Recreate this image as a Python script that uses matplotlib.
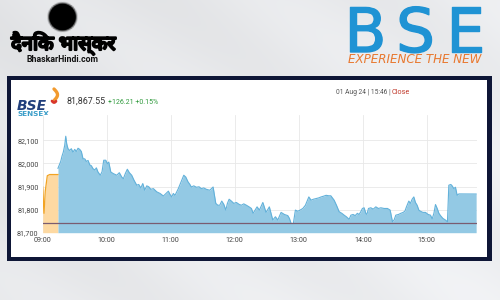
import numpy as np
import pandas as pd
import matplotlib
matplotlib.use("Agg")
import matplotlib.pyplot as plt
from matplotlib.patches import Rectangle, Polygon, Circle
import matplotlib.patheffects as pe
from matplotlib.ticker import StrMethodFormatter

# ---------------- data ----------------
session_date = "2024-08-01"
preopen_min = [0.0, 1.2, 2.4, 4.3, 6.6, 13.7, 14.3]
preopen_val = [81898, 81784, 81880, 81947, 81952, 81952, 81952]

trade_min = [14.3, 16.9, 18.1, 19.3, 20.6, 21.6, 22.5, 23.7, 25.3, 26.8, 28.4, 30.0,
             31.5, 33.1, 34.7, 36.2, 37.8, 39.4, 40.9, 42.5, 44.1, 45.6, 47.2, 48.8,
             50.3, 51.8, 54.0, 55.6, 57.2, 59.1, 60.6, 61.9, 63.8, 66.2, 69.4, 71.8,
             74.1, 75.6, 77.4, 79.3, 81.2, 83.4, 85.6, 88.1, 90.0, 91.9, 93.8, 95.6,
             97.5, 99.4, 101.3, 103.7, 106.9, 110.0, 113.1, 115.6, 117.8, 119.3, 120.9,
             122.4, 124.0, 125.6, 127.1, 130.3, 132.2, 134.1, 136.2, 137.8, 139.3, 141.6,
             144.0, 146.5, 148.7, 150.9, 153.4, 156.6, 159.7, 162.2, 164.1, 165.9, 167.8,
             169.7, 171.6, 173.1, 174.7, 176.8, 179.1, 181.5, 184.0, 186.2, 188.4, 190.9,
             193.4, 195.6, 197.2, 199.0, 200.9, 203.1, 206.3, 209.3, 212.4, 215.6, 218.1,
             220.3, 223.4, 226.5, 229.7, 231.2, 232.8, 234.9, 236.8, 239.1, 241.2, 243.8,
             246.2, 247.5, 249.4, 251.5, 253.7, 256.2, 258.8, 260.9, 263.1, 265.6, 268.1,
             270.0, 273.1, 275.3, 277.8, 280.3, 282.5, 284.6, 287.2, 288.8, 290.9, 292.8,
             294.9, 296.5, 298.1, 299.6, 301.2, 302.8, 303.8, 305.3, 307.5, 309.7, 312.2,
             314.6, 316.9, 320.0, 323.1, 325.6, 327.8, 329.3, 330.9, 333.4, 335.6, 337.8,
             339.4, 340.9, 343.1, 344.6, 346.2, 347.8, 349.3, 350.9, 352.5, 354.0, 356.3,
             358.7, 361.2, 363.4, 365.0, 366.6, 368.1, 369.7, 371.3, 372.8, 375.0, 377.4,
             379.3, 380.6, 382.5, 383.7, 385.3, 386.8, 388.4, 390.0, 406.2]
trade_val = [81979, 82009, 82032, 82049, 82078, 82118, 82085, 82064, 82056, 82064, 82049, 82061,
             82052, 82066, 82061, 82052, 82020, 82020, 82009, 82013, 81994, 81990, 81977, 81972,
             81981, 81963, 81949, 81964, 82014, 82014, 81999, 82006, 81963, 81956, 81949, 81960,
             81941, 81934, 81956, 81975, 81960, 81949, 81927, 81906, 81909, 81894, 81913, 81884,
             81903, 81899, 81888, 81891, 81877, 81870, 81859, 81870, 81880, 81866, 81855,
             81870, 81862, 81877, 81891, 81927, 81949, 81941, 81920, 81910, 81898, 81903,
             81897, 81899, 81891, 81894, 81888, 81884, 81898, 81827, 81819, 81819, 81837,
             81823, 81798, 81827, 81845, 81837, 81827, 81831, 81823, 81819, 81825, 81819,
             81812, 81805, 81784, 81798, 81812, 81798, 81831, 81788, 81812, 81755, 81769,
             81755, 81788, 81779, 81774, 81762, 81740, 81740, 81798, 81793, 81798, 81805,
             81819, 81834, 81855, 81841, 81845, 81848, 81851, 81855, 81858, 81862, 81860,
             81860, 81841, 81819, 81791, 81784, 81776, 81769, 81758, 81776, 81779, 81774,
             81784, 81779, 81791, 81805, 81808, 81784, 81779, 81805, 81808, 81802, 81812,
             81805, 81808, 81805, 81805, 81798, 81747, 81755, 81776, 81779, 81784, 81788,
             81793, 81812, 81837, 81827, 81845, 81855, 81831, 81819, 81798, 81793, 81788,
             81788, 81779, 81776, 81760, 81784, 81822, 81805, 81784, 81774, 81762, 81755,
             81747, 81906, 81909, 81903, 81891, 81897, 81862, 81868, 81867.55]

prev_close = 81741.34
last_value = "81,867.55"
change_text = "+126.21 +0.15%"
stamp_text = "01 Aug 24 | 15:46 |"
status_text = "Close"
y_ticks = [81700, 81800, 81900, 82000, 82100]
x_tick_labels = ["09:00", "10:00", "11:00", "12:00", "13:00", "14:00", "15:00"]
y_range = [81700, 82210]
x_range_min = [0, 407]

# ---------------- figure ----------------
fig = plt.figure(figsize=(5, 3), dpi=100)

# overlay in pixel coordinates (x right, y down)
ov = fig.add_axes([0, 0, 1, 1], zorder=0)
ov.axis("off")

# background gradient
yy, xx = np.mgrid[0:300, 0:500]
g = 0.905 + 0.045 * np.clip((xx + 0.8 * yy) / 700.0, 0, 1) + 0.012 * np.sin((xx - 1.4 * yy) / 35.0)
bg = np.dstack([g * 0.985, g * 0.99, g * 1.0]).clip(0, 1)
ov.imshow(bg, extent=(0, 500, 300, 0), aspect="auto", zorder=0, interpolation="bilinear")
ov.set_xlim(0, 500)
ov.set_ylim(300, 0)

# navy frame and white panel
ov.add_patch(Rectangle((6.7, 76), 485.3, 185, facecolor="#0e1636", edgecolor="none", zorder=1))
ov.add_patch(Rectangle((10.7, 80), 476.6, 176.7, facecolor="white", edgecolor="none", zorder=2))

# Dainik Bhaskar logo: sun
n = 90
ang = np.linspace(0, 2 * np.pi, 2 * n, endpoint=False)
rad = np.where(np.arange(2 * n) % 2 == 0, 15.5, 12.8)
pts = np.column_stack([62.5 + rad * np.cos(ang), 17 + rad * np.sin(ang)])
ov.add_patch(Polygon(pts, closed=True, facecolor="black", edgecolor="none", zorder=3))
ov.add_patch(Circle((62.5, 17), 12.8, facecolor="black", edgecolor="none", zorder=3))
deva = ["Noto Sans Devanagari", "Lohit Devanagari", "FreeSans", "Mukta", "Noto Sans", "DejaVu Sans"]
ov.text(63.5, 43, "दैनिक भास्कर", family=deva, fontsize=14.5, fontweight="bold",
        color="black", ha="center", va="center", zorder=3,
        path_effects=[pe.withStroke(linewidth=1.6, foreground="black")])
ov.text(62.5, 59.5, "BhaskarHindi.com", family=["Roboto", "DejaVu Sans"],
        fontsize=6.3, fontweight="bold", color="#111111", ha="center", va="center", zorder=3)

# BSE logo
bse_blue = "#1f93d4"
for ch, cx in zip(["B", "S", "E"], [365.5, 415.5, 465.5]):
    ov.text(cx, 52, ch, family=["DejaVu Sans"], fontsize=44,
            color=bse_blue, ha="center", va="baseline", zorder=3,
            path_effects=[pe.withStroke(linewidth=1.0, foreground=bse_blue)])
ov.text(414.5, 59.5, "EXPERIENCE THE NEW", family=["DejaVu Sans"], fontsize=8.6,
        fontstyle="italic", color="#e8782f", ha="center", va="center", zorder=3)

# small BSE SENSEX logo in the panel
ov.text(16.5, 110, "BSE", family=["DejaVu Sans"], fontsize=10, fontweight="bold",
        fontstyle="italic", color="#213f7c", ha="left", va="baseline", zorder=3)
ov.text(17, 114.5, "SENSEX", family=["DejaVu Sans"], fontsize=5.2, fontweight="bold",
        color="#3b9ec9", ha="left", va="center", zorder=3)
tt = np.linspace(0, 1, 30)
ov.plot(54 + 3.5 * np.sin(tt * 3.0), 89 + 11 * tt, color="#f29a2e", lw=2.4,
        solid_capstyle="round", zorder=3)
ov.plot(52 + 4 * tt, 101 + 1.5 * np.sin(tt * 3), color="#d8362b", lw=2.0,
        solid_capstyle="round", zorder=3)

# header values
ov.text(66.5, 104, last_value, family=["Roboto", "DejaVu Sans"], fontsize=6.4,
        color="#333333", ha="left", va="baseline", zorder=3)
ov.text(107.5, 104, change_text, family=["Roboto", "DejaVu Sans"], fontsize=5.0,
        color="#2f9a3c", ha="left", va="baseline", zorder=3)
ov.text(336, 92.7, stamp_text, family=["Roboto", "DejaVu Sans"], fontsize=4.8,
        color="#555555", ha="left", va="center", zorder=3)
ov.text(391.5, 92.7, status_text, family=["Roboto", "DejaVu Sans"], fontsize=5.2,
        color="#c0392b", ha="left", va="center", zorder=3)

# ---------------- chart ----------------
base = pd.Timestamp(session_date + " 09:00")
pre_t = base + pd.to_timedelta(preopen_min, unit="m")
trd_t = base + pd.to_timedelta(trade_min, unit="m")
tick_t = pd.to_datetime([session_date + " " + s for s in x_tick_labels])

ax = fig.add_axes([42.7 / 500, 1 - 232.7 / 300, (477 - 42.7) / 500, (232.7 - 115) / 300], zorder=2)
ax.set_facecolor("white")
ax.fill_between(pre_t, preopen_val, y_range[0], color="#fdd9a2", lw=0, zorder=2)
ax.plot(pre_t, preopen_val, color="#f2a424", lw=0.9, zorder=3)
ax.fill_between(trd_t, trade_val, y_range[0], color="#93c9e4", lw=0, zorder=2)
ax.plot(trd_t, trade_val, color="#62b1da", lw=0.8, zorder=3)
ax.axhline(prev_close, color="#7a5c70", lw=0.9, zorder=4)

ax.set_ylim(*y_range)
ax.set_xlim(base + pd.Timedelta(minutes=x_range_min[0]), base + pd.Timedelta(minutes=x_range_min[1]))
ax.set_yticks(y_ticks)
ax.yaxis.set_major_formatter(StrMethodFormatter("{x:,.0f}"))
ax.set_xticks(tick_t)
ax.set_xticklabels(x_tick_labels)
ax.grid(True, color="#e8e8e8", lw=0.6, zorder=0)
ax.set_axisbelow(True)
for s in ax.spines.values():
    s.set_visible(False)
ax.tick_params(length=0, labelsize=5.2, colors="#444444", pad=3)
for lbl in ax.get_xticklabels() + ax.get_yticklabels():
    lbl.set_family(["Roboto", "DejaVu Sans"])

fig.savefig("out.png", dpi=100)
